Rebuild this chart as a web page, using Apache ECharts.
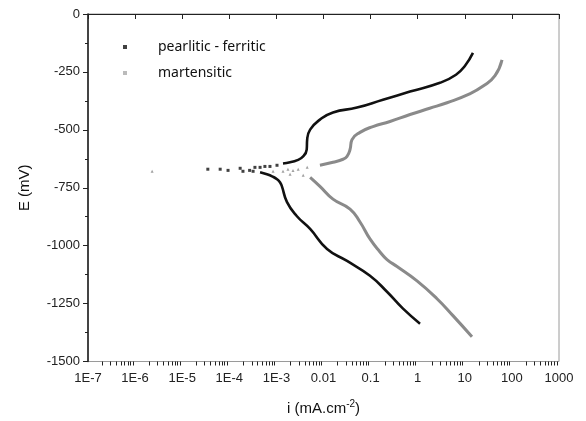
<!DOCTYPE html>
<html>
<head>
<meta charset="utf-8">
<script src="https://cdn.jsdelivr.net/npm/echarts@6/dist/echarts.min.js"></script>
<style>
  html, body { margin: 0; padding: 0; background: #fff; }
  #chart { width: 586px; height: 421px; }
</style>
</head>
<body>
<div id="chart"></div>
<script>
// tick labels of the log current axis
const xTickValues = [1e-7, 1e-6, 1e-5, 1e-4, 1e-3, 0.01, 0.1, 1, 10, 100, 1000];
const xTickLabels = ["1E-7", "1E-6", "1E-5", "1E-4", "1E-3", "0.01", "0.1", "1", "10", "100", "1000"];
const minorSteps = [2, 3, 4, 5, 6, 7, 8, 9];

// pearlitic - ferritic : [i (mA/cm2), E (mV)]
const pfDots = [
  [3.5e-5, -670], [6.4e-5, -670], [9.4e-5, -675], [1.7e-4, -666], [1.95e-4, -679],
  [2.7e-4, -675], [3.2e-4, -679], [3.5e-4, -662], [4.5e-4, -662], [5.7e-4, -658],
  [7.3e-4, -658], [1.03e-3, -653]
];
const pfAnodic = [
  [1.38e-3, -645], [1.95e-3, -640], [2.7e-3, -632], [3.7e-3, -615], [4.4e-3, -585],
  [4.5e-3, -542], [5.2e-3, -499], [8.4e-3, -456], [0.0159, -425], [0.0514, -404],
  [0.183, -370], [0.687, -335], [2.97, -297], [6.5, -262], [10.2, -222], [14.9, -168]
];
const pfCathodic = [
  [4.5e-4, -683], [6.3e-4, -692], [8.1e-4, -701], [1.03e-3, -713], [1.19e-3, -726],
  [1.31e-3, -744], [1.68e-3, -812], [2.7e-3, -872], [5.2e-3, -928], [0.0119, -1014],
  [0.0316, -1066], [0.097, -1130], [0.223, -1199], [0.488, -1272], [1.12, -1337]
];

// martensitic
const mDots = [
  [2.3e-6, -679], [8.5e-4, -679], [1.38e-3, -679], [1.76e-3, -670], [2.25e-3, -675],
  [2.9e-3, -670], [4.5e-3, -662], [1.95e-3, -692], [3.7e-3, -696]
];
const mAnodic = [
  [8.4e-3, -653], [0.0159, -640], [0.026, -627], [0.0316, -615], [0.0366, -585],
  [0.0403, -542], [0.0596, -511], [0.112, -486], [0.258, -464], [0.687, -434],
  [1.8, -407], [4.19, -383], [12, -347], [25, -310], [43.8, -266], [61.7, -198]
];
const mCathodic = [
  [5.2e-3, -705], [8.4e-3, -744], [0.0159, -799], [0.0366, -842], [0.0596, -898],
  [0.097, -971], [0.158, -1027], [0.223, -1060], [0.364, -1090], [0.966, -1152],
  [2.57, -1229], [5.6, -1302], [14.2, -1393]
];

const yTicks = { min: -1500, max: 0, interval: 250 };

const black = "#111111";
const grey = "#8a8a8a";

const minorValues = [];
xTickValues.slice(0, -1).forEach(function (d) {
  minorSteps.forEach(function (m) { minorValues.push(m * d); });
});

function xLabel(v) {
  const k = Math.round(Math.log10(v));
  const idx = xTickValues.findIndex(function (t) { return Math.round(Math.log10(t)) === k; });
  return idx >= 0 ? xTickLabels[idx] : "";
}

const chart = echarts.init(document.getElementById("chart"));
chart.setOption({
  animation: false,
  grid: {
    left: 88, right: 27, top: 14, bottom: 58,
    show: true, borderColor: "#9a9a9a", borderWidth: 1
  },
  legend: {
    orient: "vertical",
    left: 118,
    top: 33,
    itemWidth: 4,
    itemHeight: 4,
    itemGap: 8,
    textStyle: {
      fontFamily: "Noto Sans", fontSize: 14, color: "#111",
      padding: [0, 0, 0, 26], lineHeight: 18
    },
    data: [
      { name: "pearlitic - ferritic", icon: "rect", itemStyle: { color: black } },
      { name: "martensitic", icon: "rect", itemStyle: { color: "#aaa" } }
    ]
  },
  xAxis: [
    {
      type: "log",
      logBase: 10,
      min: 1e-7,
      max: 1000,
      name: "{a|i (mA.cm}{s|-2}{a|)}",
      nameLocation: "middle",
      nameGap: 38,
      nameTextStyle: {
        rich: {
          a: { fontFamily: "Liberation Sans", fontSize: 15, color: "#111" },
          s: { fontFamily: "Liberation Sans", fontSize: 10, color: "#111", verticalAlign: "bottom", padding: [0, 0, 8, 0] }
        }
      },
      axisLine: { show: true, lineStyle: { color: "#222", width: 1.2 } },
      axisTick: { show: true, length: 5, customValues: xTickValues, lineStyle: { color: "#222" } },
      axisLabel: {
        customValues: xTickValues,
        formatter: xLabel,
        margin: 10,
        fontFamily: "Liberation Sans",
        fontSize: 13,
        color: "#222"
      },
      splitLine: { show: false },
      minorTick: { show: false }
    },
    {
      type: "log",
      logBase: 10,
      min: 1e-7,
      max: 1000,
      position: "bottom",
      axisLine: { show: false },
      axisTick: { show: true, length: 4, customValues: minorValues, lineStyle: { color: "#222" } },
      axisLabel: { show: false },
      splitLine: { show: false }
    }
  ],
  yAxis: {
    type: "value",
    min: yTicks.min,
    max: yTicks.max,
    interval: yTicks.interval,
    name: "E (mV)",
    nameLocation: "middle",
    nameGap: 56,
    nameTextStyle: { fontFamily: "Liberation Sans", fontSize: 15, color: "#111" },
    axisLine: { show: true, lineStyle: { color: "#222", width: 1.6 } },
    axisTick: { show: true, length: 5, lineStyle: { color: "#222" } },
    minorTick: { show: true, splitNumber: 2, length: 3, lineStyle: { color: "#222" } },
    axisLabel: {
      margin: 8, fontFamily: "Liberation Sans", fontSize: 13, color: "#222",
      formatter: function (v) { return String(v); }
    },
    splitLine: { show: false }
  },
  series: [
    {
      name: "pearlitic - ferritic", type: "scatter", data: pfDots,
      symbol: "rect", symbolSize: 3, itemStyle: { color: black }
    },
    {
      name: "pearlitic - ferritic", type: "line", data: pfAnodic,
      smooth: 0.5, showSymbol: false, lineStyle: { color: black, width: 2.6 }
    },
    {
      name: "pearlitic - ferritic", type: "line", data: pfCathodic,
      smooth: 0.5, showSymbol: false, lineStyle: { color: black, width: 2.6 }
    },
    {
      name: "martensitic", type: "scatter", data: mDots,
      symbol: "triangle", symbolSize: 3, itemStyle: { color: grey }
    },
    {
      name: "martensitic", type: "line", data: mAnodic,
      smooth: 0.5, showSymbol: false, lineStyle: { color: grey, width: 3 }
    },
    {
      name: "martensitic", type: "line", data: mCathodic,
      smooth: 0.5, showSymbol: false, lineStyle: { color: grey, width: 3 }
    }
  ]
});
</script>
</body>
</html>
